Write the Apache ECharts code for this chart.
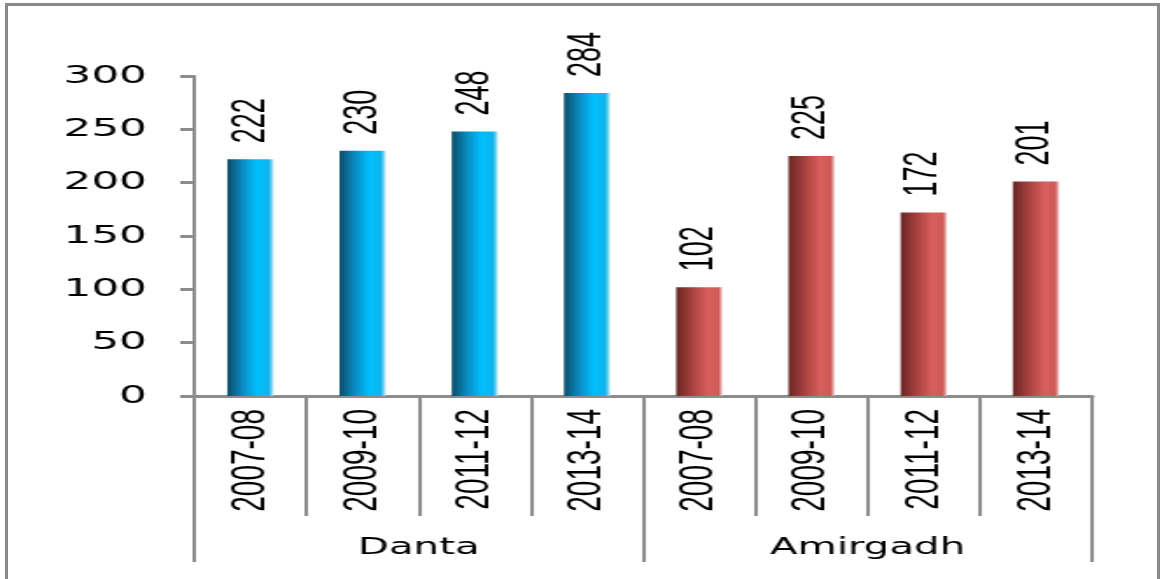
<!DOCTYPE html>
<html>
<head>
<meta charset="utf-8">
<script src="https://cdn.jsdelivr.net/npm/echarts@6/dist/echarts.min.js"></script>
<style>
  html, body { margin: 0; padding: 0; background: #fff; }
  body { width: 1160px; height: 579px; overflow: hidden; position: relative; }
  /* outer frame of the picture */
  .frame {
    position: absolute; left: 5px; top: 3px; width: 1149px; height: 600px;
    border: 3px solid #8a8a8a; border-bottom: none;
  }
  /* the original picture is stretched sideways, so draw narrow and scale */
  #main {
    position: absolute; left: 0; top: 0;
    width: 663px; height: 579px;
    transform: scaleX(1.75); transform-origin: 0 0;
  }
</style>
</head>
<body>
<div class="frame"></div>
<div id="main"></div>
<script>
// data
const periods = ['2007-08', '2009-10', '2011-12', '2013-14'];
const places = ['Danta', 'Amirgadh'];
const dantaVals = [222, 230, 248, 284];
const amirgadhVals = [102, 225, 172, 201];
const yTicks = [0, 50, 100, 150, 200, 250, 300];

const blueBar = {
  type: 'linear', x: 0, y: 0, x2: 1, y2: 0,
  colorStops: [
    { offset: 0, color: '#0b4c6a' },
    { offset: 0.35, color: '#0a8fc6' },
    { offset: 0.65, color: '#00c0ff' },
    { offset: 0.9, color: '#12b4ea' },
    { offset: 1, color: '#bfe8f6' }
  ]
};
const redBar = {
  type: 'linear', x: 0, y: 0, x2: 1, y2: 0,
  colorStops: [
    { offset: 0, color: '#6a2624' },
    { offset: 0.4, color: '#b04643' },
    { offset: 0.7, color: '#d9605d' },
    { offset: 0.92, color: '#cf5956' },
    { offset: 1, color: '#f2cdcb' }
  ]
};

const cats = periods.concat(periods);
const barData = dantaVals.map(v => ({ value: v, itemStyle: { color: blueBar } }))
  .concat(amirgadhVals.map(v => ({ value: v, itemStyle: { color: redBar } })));

const lineCol = '#8c8c8c';
const myChart = echarts.init(document.getElementById('main'), null, { renderer: 'canvas' });

const options = {
  animation: false,
  grid: {
    left: 111, right: 39, top: 76, bottom: 183,
    containLabel: false, outerBoundsMode: 'none'
  },
  xAxis: [
    {
      type: 'category',
      data: cats,
      position: 'bottom',
      axisLine: { show: true, lineStyle: { color: lineCol, width: 3 } },
      axisTick: { show: true, interval: 0, length: 120, lineStyle: { color: lineCol, width: 2 } },
      axisLabel: {
        interval: 0, rotate: 90, margin: 13,
        fontFamily: 'Liberation Sans', fontSize: 28, color: '#000'
      },
      splitLine: { show: false }
    },
    {
      type: 'category',
      data: places,
      position: 'bottom',
      offset: 0,
      axisLine: { show: false },
      axisTick: { show: true, interval: 0, length: 166, lineStyle: { color: lineCol, width: 2 } },
      axisLabel: {
        interval: 0, margin: 141,
        fontFamily: 'DejaVu Sans', fontSize: 23, color: '#000'
      },
      splitLine: { show: false }
    }
  ],
  yAxis: {
    type: 'value',
    min: yTicks[0],
    max: yTicks[yTicks.length - 1],
    interval: 50,
    axisLine: { show: true, lineStyle: { color: lineCol, width: 2 } },
    axisTick: { show: true, length: 8, lineStyle: { color: lineCol, width: 3 } },
    axisLabel: { margin: 27, fontFamily: 'DejaVu Sans', fontSize: 25, color: '#000' },
    splitLine: { show: false }
  },
  series: [{
    type: 'bar',
    xAxisIndex: 0,
    data: barData,
    barWidth: '41%',
    label: {
      show: true,
      position: 'top',
      rotate: 90,
      align: 'left',
      verticalAlign: 'middle',
      distance: 16,
      fontFamily: 'Liberation Sans',
      fontSize: 27,
      color: '#000'
    }
  }]
};
myChart.setOption(options);
</script>
</body>
</html>
